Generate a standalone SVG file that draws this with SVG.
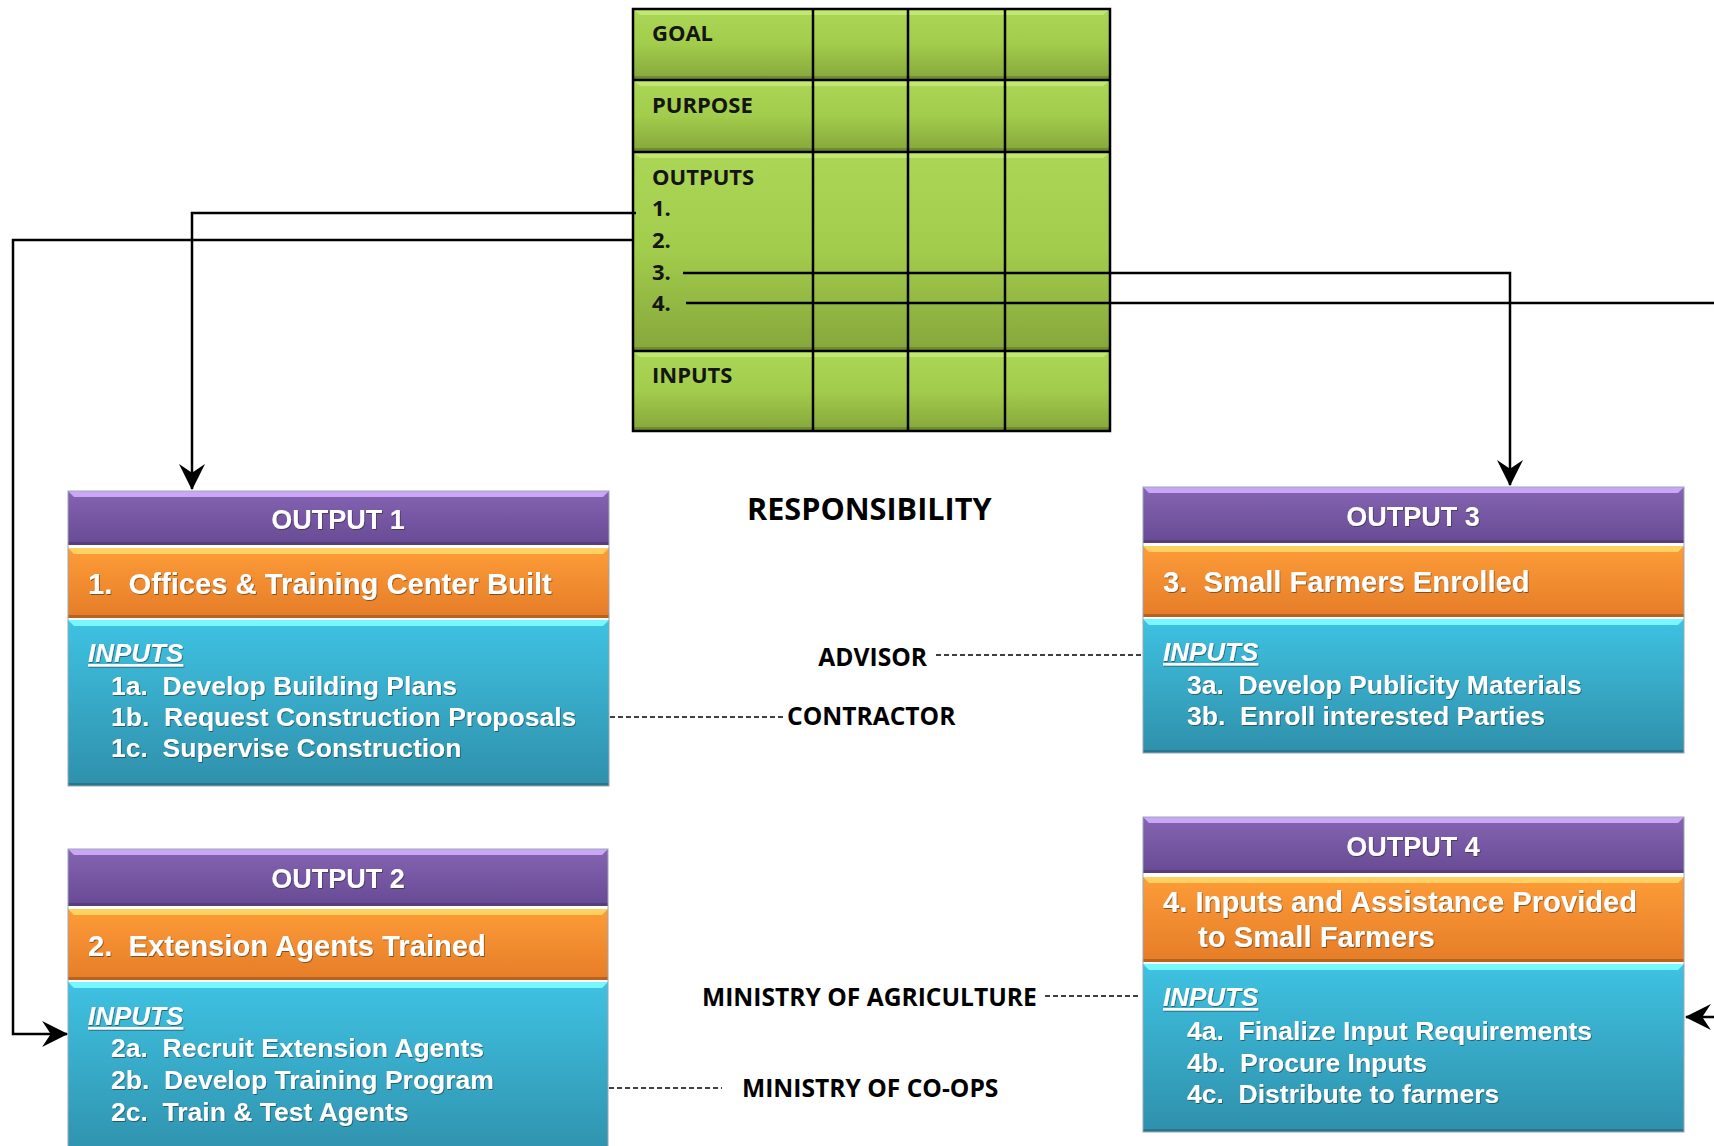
<svg xmlns="http://www.w3.org/2000/svg" width="1714" height="1146" viewBox="0 0 1714 1146">
<defs>
<linearGradient id="gGreen" x1="0" y1="0" x2="0" y2="1"><stop offset="0" stop-color="#acd655"/><stop offset="0.5" stop-color="#a2cc4c"/><stop offset="1" stop-color="#86a63b"/></linearGradient>
<linearGradient id="gPurple" x1="0" y1="0" x2="0" y2="1"><stop offset="0" stop-color="#8565b3"/><stop offset="1" stop-color="#684993"/></linearGradient>
<linearGradient id="gOrange" x1="0" y1="0" x2="0" y2="1"><stop offset="0" stop-color="#fd9c38"/><stop offset="1" stop-color="#e57d28"/></linearGradient>
<linearGradient id="gBlue" x1="0" y1="0" x2="0" y2="1"><stop offset="0" stop-color="#3fc2e2"/><stop offset="1" stop-color="#2f90ab"/></linearGradient>
<filter id="shadow" x="-5%" y="-20%" width="110%" height="140%"><feDropShadow dx="0.8" dy="1" stdDeviation="0.6" flood-color="#202020" flood-opacity="0.55"/></filter>
<marker id="arrow" markerUnits="userSpaceOnUse" markerWidth="26" markerHeight="26" viewBox="0 0 24 24" refX="23" refY="12" orient="auto"><path d="M0,0 L24,12 L0,24 L8,12 z" fill="#000"/></marker>
</defs>
<style>
.bg{fill:#ffffff}
.green{fill:url(#gGreen)}
.gTop{fill:#c2e872}
.gBot{fill:#6f8c2e}
.gridline{stroke:#000;stroke-width:2.5;fill:none}
.purple{fill:url(#gPurple)}
.pTop{fill:#cba6f6}
.pBot{fill:#573d7b}
.orange{fill:url(#gOrange)}
.oTop{fill:#ffd062}
.oBot{fill:#b8631d}
.blue{fill:url(#gBlue)}
.bTop{fill:#78f7ff}
.bBot{fill:#28768e}
.edge{fill:none;stroke:#9aa7b5;stroke-width:1}
.glabel{font-family:"Open Sans","DejaVu Sans",sans-serif;font-weight:bold;font-size:22px;fill:#151515}
.hdr{font-family:"Liberation Sans",Arial,sans-serif;font-weight:bold;font-size:27px;fill:#fff;text-anchor:middle}
.ttl{font-family:"Liberation Sans",Arial,sans-serif;font-weight:bold;font-size:29.2px;fill:#fff}
.inp{font-family:"Liberation Sans",Arial,sans-serif;font-weight:bold;font-style:italic;font-size:26px;fill:#fff;text-decoration:underline}
.item{font-family:"Liberation Sans",Arial,sans-serif;font-weight:bold;font-size:26.5px;fill:#fff}
.resp{font-family:"Open Sans","DejaVu Sans",sans-serif;font-weight:bold;font-size:24.6px;fill:#000}
.big{font-size:30.6px}
.conn{stroke:#000;stroke-width:2.5;fill:none}
.dash{stroke:#000;stroke-width:1.6;fill:none;stroke-dasharray:5 3}
</style>
<rect class="bg" x="0" y="0" width="1714" height="1146"/>

<g id="logframe">
<rect class="green" x="633" y="9" width="477" height="71"/>
<rect class="green" x="633" y="80" width="477" height="72"/>
<rect class="green" x="633" y="152" width="477" height="199"/>
<rect class="green" x="633" y="351" width="477" height="80"/>
<polygon class="gTop" points="634,10 1109,10 1103,15 640,15"/>
<polygon class="gTop" points="634,81 1109,81 1103,86 640,86"/>
<polygon class="gTop" points="634,153 1109,153 1103,158 640,158"/>
<polygon class="gTop" points="634,352 1109,352 1103,357 640,357"/>
<rect class="gBot" x="634" y="76" width="475" height="3"/>
<rect class="gBot" x="634" y="148" width="475" height="3"/>
<rect class="gBot" x="634" y="347" width="475" height="3"/>
<rect class="gBot" x="634" y="427" width="475" height="3"/>
<rect class="gridline" x="633" y="9" width="477" height="422"/>
<path class="gridline" d="M813,9 V431 M908,9 V431 M1005,9 V431 M633,80 H1110 M633,152 H1110 M633,351 H1110"/>
<text class="glabel" x="652" y="41">GOAL</text>
<text class="glabel" x="652" y="113">PURPOSE</text>
<text class="glabel" x="652" y="185">OUTPUTS</text>
<text class="glabel" x="652" y="216">1.</text>
<text class="glabel" x="652" y="248">2.</text>
<text class="glabel" x="652" y="280">3.</text>
<text class="glabel" x="652" y="311">4.</text>
<text class="glabel" x="652" y="383">INPUTS</text>
</g>

<g id="output1">
<rect class="purple" x="68" y="491" width="541" height="54"/>
<polygon class="pTop" points="68,491 609,491 603,497 74,497"/>
<rect class="pBot" x="68" y="542" width="541" height="3"/>
<rect class="orange" x="68" y="548" width="541" height="70"/>
<polygon class="oTop" points="68,548 609,548 603,554 74,554"/>
<rect class="oBot" x="68" y="615" width="541" height="3"/>
<rect class="blue" x="68" y="620" width="541" height="166"/>
<polygon class="bTop" points="68,620 609,620 603,626 74,626"/>
<rect class="bBot" x="68" y="783" width="541" height="3"/>
<rect class="edge" x="68" y="491" width="541" height="295"/>
<g filter="url(#shadow)">
<text class="hdr" x="338" y="529">OUTPUT 1</text>
<text class="ttl" x="88" y="594" xml:space="preserve">1.  Offices &amp; Training Center Built</text>
<text class="inp" x="88" y="662">INPUTS</text>
<text class="item" x="111" y="695" xml:space="preserve">1a.  Develop Building Plans</text>
<text class="item" x="111" y="726" xml:space="preserve">1b.  Request Construction Proposals</text>
<text class="item" x="111" y="757" xml:space="preserve">1c.  Supervise Construction</text>
</g>
</g>

<g id="output2">
<rect class="purple" x="68" y="849" width="540" height="57"/>
<polygon class="pTop" points="68,849 608,849 602,855 74,855"/>
<rect class="pBot" x="68" y="903" width="540" height="3"/>
<rect class="orange" x="68" y="909" width="540" height="71"/>
<polygon class="oTop" points="68,909 608,909 602,915 74,915"/>
<rect class="oBot" x="68" y="977" width="540" height="3"/>
<rect class="blue" x="68" y="982" width="540" height="180"/>
<polygon class="bTop" points="68,982 608,982 602,988 74,988"/>
<rect class="edge" x="68" y="849" width="540" height="313"/>
<g filter="url(#shadow)">
<text class="hdr" x="338" y="888">OUTPUT 2</text>
<text class="ttl" x="88" y="956" xml:space="preserve">2.  Extension Agents Trained</text>
<text class="inp" x="88" y="1025">INPUTS</text>
<text class="item" x="111" y="1057" xml:space="preserve">2a.  Recruit Extension Agents</text>
<text class="item" x="111" y="1089" xml:space="preserve">2b.  Develop Training Program</text>
<text class="item" x="111" y="1121" xml:space="preserve">2c.  Train &amp; Test Agents</text>
</g>
</g>

<g id="output3">
<rect class="purple" x="1143" y="487" width="541" height="56"/>
<polygon class="pTop" points="1143,487 1684,487 1678,493 1149,493"/>
<rect class="pBot" x="1143" y="540" width="541" height="3"/>
<rect class="orange" x="1143" y="546" width="541" height="71"/>
<polygon class="oTop" points="1143,546 1684,546 1678,552 1149,552"/>
<rect class="oBot" x="1143" y="614" width="541" height="3"/>
<rect class="blue" x="1143" y="619" width="541" height="134"/>
<polygon class="bTop" points="1143,619 1684,619 1678,625 1149,625"/>
<rect class="bBot" x="1143" y="750" width="541" height="3"/>
<rect class="edge" x="1143" y="487" width="541" height="266"/>
<g filter="url(#shadow)">
<text class="hdr" x="1413" y="526">OUTPUT 3</text>
<text class="ttl" x="1163" y="592" xml:space="preserve">3.  Small Farmers Enrolled</text>
<text class="inp" x="1163" y="661">INPUTS</text>
<text class="item" x="1187" y="694" xml:space="preserve">3a.  Develop Publicity Materials</text>
<text class="item" x="1187" y="725" xml:space="preserve">3b.  Enroll interested Parties</text>
</g>
</g>

<g id="output4">
<rect class="purple" x="1143" y="817" width="541" height="56"/>
<polygon class="pTop" points="1143,817 1684,817 1678,823 1149,823"/>
<rect class="pBot" x="1143" y="870" width="541" height="3"/>
<rect class="orange" x="1143" y="877" width="541" height="85"/>
<polygon class="oTop" points="1143,877 1684,877 1678,883 1149,883"/>
<rect class="oBot" x="1143" y="959" width="541" height="3"/>
<rect class="blue" x="1143" y="964" width="541" height="168"/>
<polygon class="bTop" points="1143,964 1684,964 1678,970 1149,970"/>
<rect class="bBot" x="1143" y="1129" width="541" height="3"/>
<rect class="edge" x="1143" y="817" width="541" height="315"/>
<g filter="url(#shadow)">
<text class="hdr" x="1413" y="856">OUTPUT 4</text>
<text class="ttl" x="1163" y="912">4. Inputs and Assistance Provided</text>
<text class="ttl" x="1198" y="947">to Small Farmers</text>
<text class="inp" x="1163" y="1006">INPUTS</text>
<text class="item" x="1187" y="1040" xml:space="preserve">4a.  Finalize Input Requirements</text>
<text class="item" x="1187" y="1072" xml:space="preserve">4b.  Procure Inputs</text>
<text class="item" x="1187" y="1103" xml:space="preserve">4c.  Distribute to farmers</text>
</g>
</g>

<g id="responsibility">
<text class="resp big" x="747" y="520">RESPONSIBILITY</text>
<text class="resp" x="927" y="666" text-anchor="end">ADVISOR</text>
<text class="resp" x="787" y="725">CONTRACTOR</text>
<text class="resp" x="702" y="1006">MINISTRY OF AGRICULTURE</text>
<text class="resp" x="742" y="1097">MINISTRY OF CO-OPS</text>
</g>

<g id="connectors">
<path class="conn" d="M636,213 H192 V489" marker-end="url(#arrow)"/>
<path class="conn" d="M634,240 H13 V1034 H67" marker-end="url(#arrow)"/>
<path class="conn" d="M683,273 H1510 V485" marker-end="url(#arrow)"/>
<path class="conn" d="M686,303 H1716"/>
<path class="conn" d="M1716,1017 H1686" marker-end="url(#arrow)"/>
<path class="dash" d="M936,655 H1141"/>
<path class="dash" d="M610,717 H786"/>
<path class="dash" d="M1045,996 H1141"/>
<path class="dash" d="M609,1088 H722"/>
</g>
</svg>
